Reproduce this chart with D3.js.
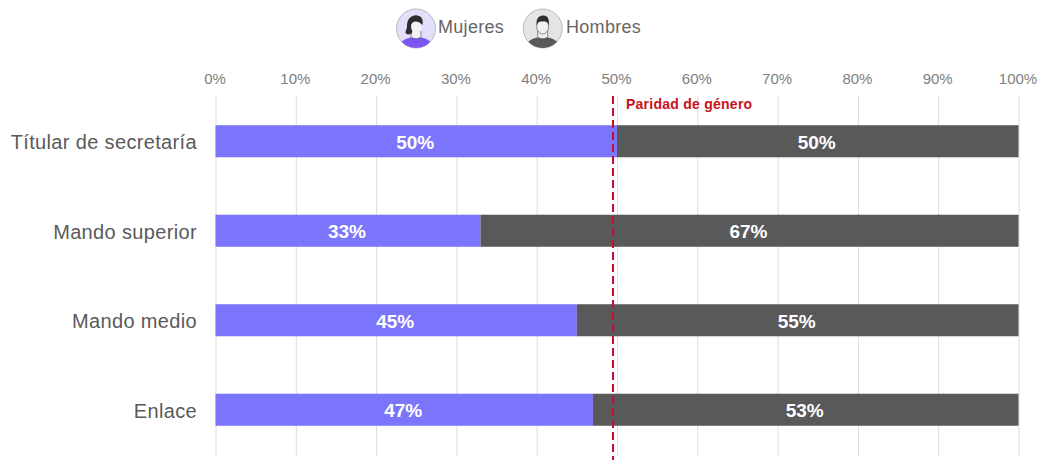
<!DOCTYPE html>
<html><head><meta charset="utf-8">
<script src="https://cdn.jsdelivr.net/npm/d3@7/dist/d3.min.js"></script>
<style>html,body{margin:0;padding:0;background:#fff;overflow:hidden}svg{display:block}text{font-family:Arial,"Liberation Sans",sans-serif}</style>
</head><body><svg id="c" width="1041" height="460"></svg>
<script>
const categories = ["Títular de secretaría","Mando superior","Mando medio","Enlace"];
const mujeres = [50,33,45,47];
const hombres = [50,67,55,53];
const ticks = [0,10,20,30,40,50,60,70,80,90,100];
const paridad = 49.5;
const colors = {m:"#7b75fb",h:"#595959"};
const svg = d3.select("#c");
const x = d3.scaleLinear().domain([0,100]).range([215.5,1018.5]);
const y = d3.scaleBand().domain(categories).range([96.5,454.5]).paddingInner(0.642).paddingOuter(0.321);

// grid + top axis
const ax = svg.append("g").attr("transform","translate(0,96)")
  .call(d3.axisTop(x).tickValues(ticks).tickFormat(d=>d+"%").tickSize(-360).tickPadding(12));
ax.select(".domain").remove();
ax.selectAll("line").attr("stroke","#dcdcdc").attr("stroke-width",1);
ax.selectAll("text").attr("fill","#808080").attr("dx",-1).style("font-size","15px");

// left labels
const ay = svg.append("g").attr("transform","translate(216,1.5)")
  .call(d3.axisLeft(y).tickSize(0).tickPadding(19));
ay.select(".domain").remove();
ay.selectAll("text").attr("fill","#5a5a5a").style("font-size","20px").style("letter-spacing","0.35px");

const rows = categories.map((c,i)=>({c,m:mujeres[i],h:hombres[i]}));
const g = svg.append("g").selectAll("g").data(rows).join("g");
g.append("rect").attr("x",x(0)).attr("y",d=>y(d.c)).attr("width",d=>x(d.m)-x(0)).attr("height",y.bandwidth()).attr("fill",colors.m);
g.append("rect").attr("x",d=>x(d.m)).attr("y",d=>y(d.c)).attr("width",d=>x(d.m+d.h)-x(d.m)).attr("height",y.bandwidth()).attr("fill",colors.h);
const lab = (sel,f,cx)=>sel.append("text").attr("x",cx).attr("y",d=>y(d.c)+y.bandwidth()/2+1).attr("dy","0.35em")
  .attr("text-anchor","middle").attr("fill","#fff").style("font-size","19px").style("font-weight","700").text(d=>f(d)+"%");
lab(g,d=>d.m,d=>x(d.m/2)-1);
lab(g,d=>d.h,d=>x(d.m+d.h/2)-1);

// parity line
svg.append("line").attr("x1",x(paridad)).attr("x2",x(paridad)).attr("y1",96).attr("y2",460)
  .attr("stroke","#c8102e").attr("stroke-width",2).attr("stroke-dasharray","8 4");
svg.append("text").attr("x",x(paridad)+13).attr("y",109).attr("fill","#c8111a")
  .style("font-size","14px").style("font-weight","700").style("letter-spacing","0.25px").text("Paridad de género");

// legend
function person(cx,cy,bg,body,hair,female){
  const p = svg.append("g").attr("transform",`translate(${cx},${cy})`);
  const id = "clip"+cx;
  p.append("clipPath").attr("id",id).append("circle").attr("r",19.5);
  p.append("circle").attr("r",19.5).attr("fill",bg).attr("stroke","#b9b9b9").attr("stroke-width",1);
  const i = p.append("g").attr("clip-path",`url(#${id})`);
  i.append("path").attr("d","M-19 21 C-16 11 -8 9 0 8 C8 9 16 11 19 21 Z").attr("fill",body);
  i.append("path").attr("d","M-5 3 L-5 8 C-3 11 3 11 5 8 L5 3 Z").attr("fill","#f2f0f2").attr("stroke","#444").attr("stroke-width",0.6);
  if(female){
    i.append("path").attr("d","M0 -13 C-8 -13 -9 -6 -9 -2 C-9 2 -13 4 -8 6 L-4 5 L-4 -3 L6 -3 C8 -8 6 -13 0 -13 Z").attr("fill","#2e2a2e");
    i.append("ellipse").attr("cx",0.5).attr("cy",-2).attr("rx",5.5).attr("ry",7).attr("fill","#f4f2f4");
    i.append("path").attr("d","M-5 -4 C-3 -8 2 -8 6 -4 C7 -9 4 -13 0 -13 C-5 -13 -7 -9 -5 -4 Z").attr("fill","#2e2a2e");
  } else {
    i.append("ellipse").attr("cx",0).attr("cy",-2).attr("rx",6).attr("ry",7.5).attr("fill","#f2f2f2").attr("stroke","#444").attr("stroke-width",0.6);
    i.append("path").attr("d","M-6 -3 C-7 -11 -3 -13 1 -13 C5 -13 7 -9 6 -3 C5 -7 3 -7 0 -7 C-3 -7 -5 -7 -6 -3 Z").attr("fill",hair);
  }
}
person(416,28.5,"#e3dffb","#7a55ef","#2e2a2e",true);
person(542.7,28.5,"#e4e4e4","#595959","#2e2e2e",false);
const legendText = (lx,t)=>svg.append("text").attr("x",lx).attr("y",33).attr("fill","#666").style("font-size","18px").style("letter-spacing","0.3px").text(t);
legendText(438,"Mujeres");
legendText(566,"Hombres");
</script></body></html>
